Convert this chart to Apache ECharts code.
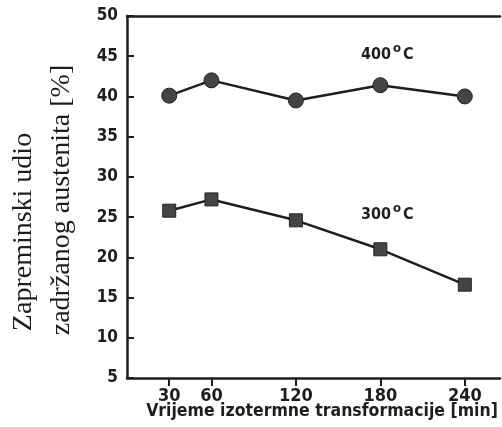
<!DOCTYPE html>
<html>
<head>
<meta charset="utf-8">
<script src="https://cdn.jsdelivr.net/npm/echarts@6/dist/echarts.min.js"></script>
<style>html,body{margin:0;padding:0;background:#fff;}#c{width:502px;height:427px;}</style>
</head>
<body>
<div id="c"></div>
<script>
var times = [30, 60, 120, 180, 240];
var xTicks = [30, 60, 120, 180, 240];
var s400 = [40.1, 42.0, 39.5, 41.4, 40.0];
var s300 = [25.8, 27.2, 24.6, 21.0, 16.6];
var s400Name = '400 °C';
var s300Name = '300 °C';
var yTitle1 = 'Zapreminski udio';
var yTitle2 = 'zadržanog austenita [%]';
var xTitle = 'Vrijeme izotermne transformacije [min]';

function pairs(xs, ys) { return xs.map(function (x, i) { return [x, ys[i]]; }); }

var narrow = "'DejaVu Sans Condensed','Liberation Sans Narrow',sans-serif";
var chart = echarts.init(document.getElementById('c'));
var ink = '#1e1e1e';

function tempLabel(x, y, num) {
  return { type: 'group', x: x, y: y, children: [
    { type: 'text', x: 0, y: 0, style: { text: num, font: 'bold 16px ' + narrow, fill: ink, align: 'left', verticalAlign: 'middle' } },
    { type: 'text', x: 32, y: -6, style: { text: 'o', font: 'bold 13px ' + narrow, fill: ink, align: 'left', verticalAlign: 'middle' } },
    { type: 'text', x: 42, y: 0, style: { text: 'C', font: 'bold 16px ' + narrow, fill: ink, align: 'left', verticalAlign: 'middle' } }
  ] };
}

chart.setOption({
  animation: false,
  backgroundColor: '#fff',
  grid: { left: 127, right: 2, top: 16, bottom: 49 },
  xAxis: [{
    type: 'value', min: 0, max: 265,
    axisLine: { lineStyle: { color: ink, width: 2.5 } },
    axisTick: { show: true, length: 8, lineStyle: { color: ink, width: 2 }, customValues: xTicks },
    axisLabel: { customValues: xTicks, color: ink, fontFamily: narrow, fontWeight: 'bold', fontSize: 18, margin: 9 },
    splitLine: { show: false }
  }, {
    type: 'value', min: 0, max: 265, position: 'top',
    axisLine: { show: true, lineStyle: { color: ink, width: 2.5 } },
    axisTick: { show: false }, axisLabel: { show: false }, splitLine: { show: false }
  }],
  yAxis: {
    type: 'value', min: 5, max: 50, interval: 5,
    axisLine: { show: true, lineStyle: { color: ink, width: 2.5 } },
    axisTick: { show: true, inside: true, length: 7, lineStyle: { color: ink, width: 2 } },
    axisLabel: { color: ink, fontFamily: narrow, fontWeight: 'bold', fontSize: 17, margin: 9 },
    splitLine: { show: false }
  },
  series: [{
    name: s400Name, type: 'line', data: pairs(times, s400),
    symbol: 'circle', symbolSize: 15,
    lineStyle: { color: ink, width: 2.5 },
    itemStyle: { color: '#444', borderColor: '#222', borderWidth: 1 }
  }, {
    name: s300Name, type: 'line', data: pairs(times, s300),
    symbol: 'rect', symbolSize: 13,
    lineStyle: { color: ink, width: 2.5 },
    itemStyle: { color: '#444', borderColor: '#222', borderWidth: 1 }
  }],
  graphic: [
    { type: 'text', x: 24, y: 232, rotation: Math.PI / 2,
      style: { text: yTitle1, font: "28px 'Liberation Serif','Times New Roman',serif", fill: ink, align: 'center', verticalAlign: 'middle' } },
    { type: 'text', x: 62, y: 200, rotation: Math.PI / 2,
      style: { text: yTitle2, font: "28px 'Liberation Serif','Times New Roman',serif", fill: ink, align: 'center', verticalAlign: 'middle' } },
    { type: 'text', x: 322, y: 411,
      style: { text: xTitle, font: "bold 17.5px " + narrow, fill: ink, align: 'center', verticalAlign: 'middle' } },
    tempLabel(361, 55, '400'),
    tempLabel(361, 215, '300')
  ]
});
</script>
</body>
</html>
